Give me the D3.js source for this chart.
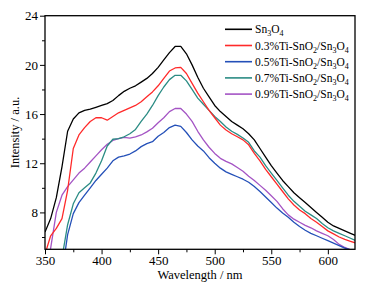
<!DOCTYPE html>
<html>
<head>
<meta charset="utf-8">
<script src="https://cdn.jsdelivr.net/npm/d3@7"></script>
</head>
<body style="margin:0; background:#fff">
<svg width="369" height="287"></svg>
<script>
// wavelength grid (nm)
const wavelengths = d3.range(350, 626, 5);

// intensity readings (a.u.), one per wavelength
const sn3o4 = [6.4, 7.5, 9.2, 11.7, 14.6, 15.6, 16.1, 16.3, 16.4, 16.55, 16.7, 16.85, 17.1, 17.5, 17.85, 18.1, 18.3, 18.6, 18.9, 19.3,
  19.8, 20.4, 21.0, 21.5, 21.5, 20.9, 20.0, 19.0, 18.1, 17.4, 16.7, 16.2, 15.8, 15.4, 15.1, 14.8, 14.4, 13.9, 13.2, 12.5,
  11.8, 11.2, 10.6, 10.1, 9.6, 9.2, 8.8, 8.4, 8.0, 7.6, 7.2, 6.9, 6.7, 6.5, 6.3, 6.1];
const ti03 = [4.6, 6.1, 6.7, 7.5, 9.8, 13.2, 14.3, 14.9, 15.4, 15.7, 15.7, 15.5, 15.8, 16.1, 16.3, 16.5, 16.7, 17.0, 17.4, 17.8,
  18.3, 18.9, 19.5, 19.75, 19.8, 19.3, 18.5, 17.7, 17.0, 16.3, 15.7, 15.1, 14.7, 14.4, 14.15, 13.9, 13.5, 12.8, 12.2, 11.5,
  10.9, 10.3, 9.7, 9.1, 8.6, 8.2, 7.9, 7.5, 7.2, 6.85, 6.5, 6.25, 6.0, 5.8, 5.65, 5.5];
const ti05 = [3, 3, 3, 3, 6.2, 7.9, 8.8, 9.4, 10.0, 10.6, 11.1, 11.6, 12.2, 12.5, 12.6, 12.75, 13.0, 13.35, 13.6, 13.75,
  14.2, 14.5, 14.9, 15.1, 15.0, 14.5, 13.9, 13.4, 13.0, 12.45, 12.0, 11.6, 11.3, 11.1, 10.9, 10.7, 10.45, 10.1, 9.7, 9.25,
  8.8, 8.35, 7.95, 7.6, 7.2, 6.85, 6.55, 6.3, 6.1, 5.9, 5.7, 5.5, 5.3, 5.1, 4.95, 4.85];
const ti07 = [3, 3, 3, 4.3, 7.0, 8.7, 9.6, 10.0, 10.4, 11.2, 12.2, 13.4, 13.95, 14.0, 14.15, 14.4, 14.75, 15.4, 16.0, 16.7,
  17.5, 18.2, 18.8, 19.15, 19.15, 18.7, 18.0, 17.3, 16.8, 16.3, 15.8, 15.4, 14.95, 14.6, 14.35, 14.05, 13.7, 13.0, 12.5, 11.8,
  11.2, 10.6, 10.0, 9.4, 8.9, 8.5, 8.1, 7.8, 7.5, 7.1, 6.75, 6.5, 6.3, 6.1, 5.9, 5.7];
const ti09 = [3, 5.1, 8.0, 9.4, 10.1, 10.65, 11.2, 11.6, 12.1, 12.6, 13.1, 13.55, 13.85, 14.0, 14.1, 14.05, 14.15, 14.3, 14.55, 14.85,
  15.3, 15.7, 16.2, 16.45, 16.45, 16.0, 15.4, 14.6, 13.9, 13.3, 12.8, 12.4, 12.15, 11.95, 11.65, 11.35, 10.95, 10.6, 10.2, 9.8,
  9.35, 8.9, 8.3, 7.8, 7.45, 7.2, 6.95, 6.75, 6.5, 6.3, 6.1, 5.8, 5.4, 5.15, 4.95, 4.8];

const xTicks = [350, 400, 450, 500, 550, 600];
const yTicks = [8, 12, 16, 20, 24];

const series = [
  {name: ['Sn', '3', 'O', '4'], values: sn3o4, color: '#000000'},
  {name: ['0.3%Ti-SnO', '2', '/Sn', '3', 'O', '4'], values: ti03, color: '#ff2a2a'},
  {name: ['0.5%Ti-SnO', '2', '/Sn', '3', 'O', '4'], values: ti05, color: '#2450b8'},
  {name: ['0.7%Ti-SnO', '2', '/Sn', '3', 'O', '4'], values: ti07, color: '#2b8c84'},
  {name: ['0.9%Ti-SnO', '2', '/Sn', '3', 'O', '4'], values: ti09, color: '#a454c4'}
];

const FONT = '"Liberation Serif"';

const svg = d3.select('svg');
const margin = {left: 45, top: 15.7, right: 14, bottom: 37.7};
const width = 369 - margin.left - margin.right;
const height = 287 - margin.top - margin.bottom;

const x = d3.scaleLinear().domain([350, 624]).range([0, width]);
const y = d3.scaleLinear().domain([5, 24]).range([height, 0]);

const g = svg.append('g').attr('transform', `translate(${margin.left},${margin.top})`);

g.append('clipPath').attr('id', 'clip')
  .append('rect').attr('width', width).attr('height', height);

// minor ticks first, then major with labels
const xMinor = d3.range(375, 624, 50);
const yMinor = d3.range(6, 24, 4);

g.append('g').attr('transform', `translate(0,${height})`)
  .call(d3.axisBottom(x).tickValues(xMinor).tickSize(3).tickFormat(''))
  .call(a => a.select('.domain').remove());
g.append('g')
  .call(d3.axisLeft(y).tickValues(yMinor).tickSize(3).tickFormat(''))
  .call(a => a.select('.domain').remove());

const xAxis = g.append('g').attr('transform', `translate(0,${height})`)
  .call(d3.axisBottom(x).tickValues(xTicks).tickSize(5).tickPadding(1));
const yAxis = g.append('g')
  .call(d3.axisLeft(y).tickValues(yTicks).tickSize(5).tickPadding(2));

[xAxis, yAxis].forEach(a => {
  a.select('.domain').remove();
  a.selectAll('text').style('font-family', FONT).attr('font-size', 13).attr('fill', '#000');
});
g.selectAll('.tick line').attr('stroke', '#000').attr('stroke-width', 1);

// data lines
const line = d3.line()
  .x((d, i) => x(wavelengths[i]))
  .y(d => y(d));

g.append('g').attr('clip-path', 'url(#clip)')
  .selectAll('path')
  .data(series.slice().reverse())
  .join('path')
  .attr('d', d => line(d.values))
  .attr('fill', 'none')
  .attr('stroke', d => d.color)
  .attr('stroke-width', 1.3)
  .attr('stroke-linejoin', 'round');

// frame
g.append('rect')
  .attr('width', width).attr('height', height)
  .attr('fill', 'none').attr('stroke', '#000').attr('stroke-width', 1.3);

// axis titles
svg.append('text')
  .attr('x', margin.left + width / 2).attr('y', 279)
  .attr('text-anchor', 'middle').attr('font-size', 12.5)
  .style('font-family', FONT)
  .text('Wavelength / nm');
svg.append('text')
  .attr('transform', `translate(19,${margin.top + height / 2}) rotate(-90)`)
  .attr('text-anchor', 'middle').attr('font-size', 12.5)
  .style('font-family', FONT)
  .text('Intensity / a.u.');

// legend
const legend = svg.append('g').attr('transform', 'translate(225,29.3)');
const rows = legend.selectAll('g').data(series).join('g')
  .attr('transform', (d, i) => `translate(0,${i * 16.2})`);
rows.append('line')
  .attr('x1', 0).attr('x2', 27)
  .attr('stroke', d => d.color).attr('stroke-width', 1.6);
const label = rows.append('text')
  .attr('x', 30).attr('y', 4).attr('font-size', 11.5)
  .style('font-family', FONT);
label.selectAll('tspan')
  .data(d => d.name.map((t, i) => ({t, sub: i % 2 === 1})))
  .join('tspan')
  .attr('font-size', d => d.sub ? 8 : 11.5)
  .attr('dy', (d, i) => i === 0 ? 0 : (d.sub ? 3 : -3))
  .text(d => d.t);
</script>
</body>
</html>
